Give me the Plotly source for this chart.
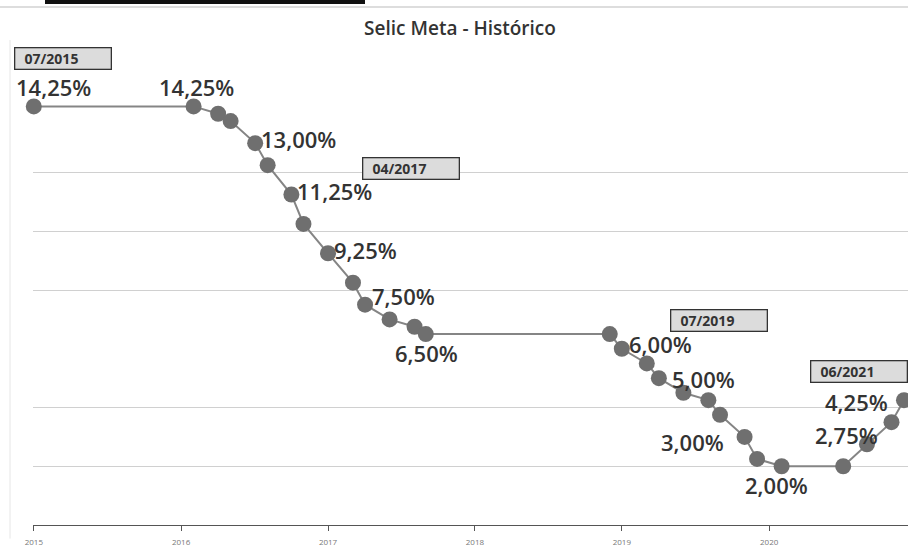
import plotly.graph_objects as go

# ---- data ----
dates = ["2015-07-01", "2016-08-01", "2016-10-01", "2016-11-01", "2017-01-01", "2017-02-01",
         "2017-04-01", "2017-05-01", "2017-07-01", "2017-09-01", "2017-10-01", "2017-12-01",
         "2018-02-01", "2018-03-01", "2019-06-01", "2019-07-01", "2019-09-01", "2019-10-01",
         "2019-12-01", "2020-02-01", "2020-03-01", "2020-05-01", "2020-06-01", "2020-08-01",
         "2021-01-01", "2021-03-01", "2021-05-01", "2021-06-01"]
selic = [14.25, 14.25, 14.00, 13.75, 13.00, 12.25,
         11.25, 10.25, 9.25, 8.25, 7.50, 7.00,
         6.75, 6.50, 6.50, 6.00, 5.50, 5.00,
         4.50, 4.25, 3.75, 3.00, 2.25, 2.00,
         2.00, 2.75, 3.50, 4.25]
tick_dates = ["2015-07-01", "2016-07-01", "2017-07-01", "2018-07-01", "2019-07-01", "2020-07-01"]
tick_labels = ["2015", "2016", "2017", "2018", "2019", "2020"]
grid_values = [2, 4, 8, 10, 12, 16]
title_text = "Selic Meta - Histórico"

# labelled points: index, anchor, dx, dy (screen px, down positive)
value_labels = [(0, "center", 20, -19), (1, "center", 3, -19), (4, "left", 5, -4),
                (6, "left", 5, -4), (8, "left", 5, -3.5), (10, "left", 6, -9),
                (13, "center", 1, 19), (15, "left", 6, -4.5), (17, "left", 12, 0.5),
                (21, "right", -20, 5), (23, "center", -5, 18.5), (25, "right", 12, -9.5),
                (27, "right", -15, 1.5)]
# date boxes: index, dx, dy (box centre relative to point)
date_boxes = [(0, 29.5, -47.5), (6, 119.5, -26), (15, 97.5, -28.5), (27, -44.5, -29)]

FONT = "Open Sans"
fig = go.Figure()
fig.add_trace(go.Scatter(
    x=dates, y=selic, mode="lines+markers",
    line=dict(color="#858585", width=2),
    marker=dict(size=16, color="#6f6f6f", line=dict(width=0)),
    cliponaxis=False, hoverinfo="skip", showlegend=False,
))

annotations = []
for i, anchor, dx, dy in value_labels:
    annotations.append(dict(
        x=dates[i], y=selic[i], xref="x", yref="y",
        text=("%.2f" % selic[i]).replace(".", ",") + "%",
        showarrow=False, xanchor=anchor, yanchor="middle",
        xshift=dx, yshift=-dy, borderpad=0,
        font=dict(family=FONT, size=22, color="#333333", weight=600),
    ))
for i, dx, dy in date_boxes:
    y, m, _ = dates[i].split("-")
    annotations.append(dict(
        x=dates[i], y=selic[i], xref="x", yref="y",
        text="\u00a0\u00a0" + m + "/" + y,
        showarrow=False, xanchor="center", yanchor="middle",
        xshift=dx, yshift=-dy, align="left",
        width=91, height=16, borderpad=2, borderwidth=1.3,
        bordercolor="#333333", bgcolor="#dcdcdc",
        font=dict(family=FONT, size=14, color="#333333", weight=700),
    ))

fig.update_layout(
    width=908, height=548,
    margin=dict(l=33, r=0, t=55, b=23),
    paper_bgcolor="white", plot_bgcolor="white",
    title=dict(text=title_text, x=460 / 908, xanchor="center", y=1 - 28 / 548, yanchor="middle",
               font=dict(family=FONT, size=19, color="#333333", weight=600)),
    xaxis=dict(type="date", range=["2015-06-29", "2021-06-11"],
               tickvals=tick_dates, ticktext=tick_labels,
               showgrid=False, zeroline=False, showline=True, linecolor="#555555", linewidth=1.3,
               ticks="outside", ticklen=5, tickcolor="#555555", ticklabelstandoff=4,
               tickfont=dict(family=FONT, size=8, color="#777777")),
    yaxis=dict(range=[0, 16], tickvals=grid_values, showticklabels=False,
               showgrid=True, gridcolor="#d0d0d0", gridwidth=1, zeroline=False, showline=False),
    annotations=annotations,
)

# scan frame details
fig.add_shape(type="rect", xref="paper", yref="paper", x0=(45 - 33) / 875, x1=(365 - 33) / 875,
              y0=1 + (55 - 4) / 470, y1=1 + 55 / 470, fillcolor="#111111", line=dict(width=0), layer="above")
fig.add_shape(type="line", xref="paper", yref="paper", x0=-33 / 875, x1=1,
              y0=1 + (55 - 7) / 470, y1=1 + (55 - 7) / 470, line=dict(color="#bbbbbb", width=1))
fig.add_shape(type="line", xref="paper", yref="paper", x0=(10 - 33) / 875, x1=(10 - 33) / 875,
              y0=-23 / 470 + 0.02, y1=1 + (55 - 40) / 470, line=dict(color="#e6e6e6", width=1))

fig.write_html("out.html", config={"displayModeBar": False},
               post_script="document.body.style.margin='0';document.body.style.overflow='hidden';")
